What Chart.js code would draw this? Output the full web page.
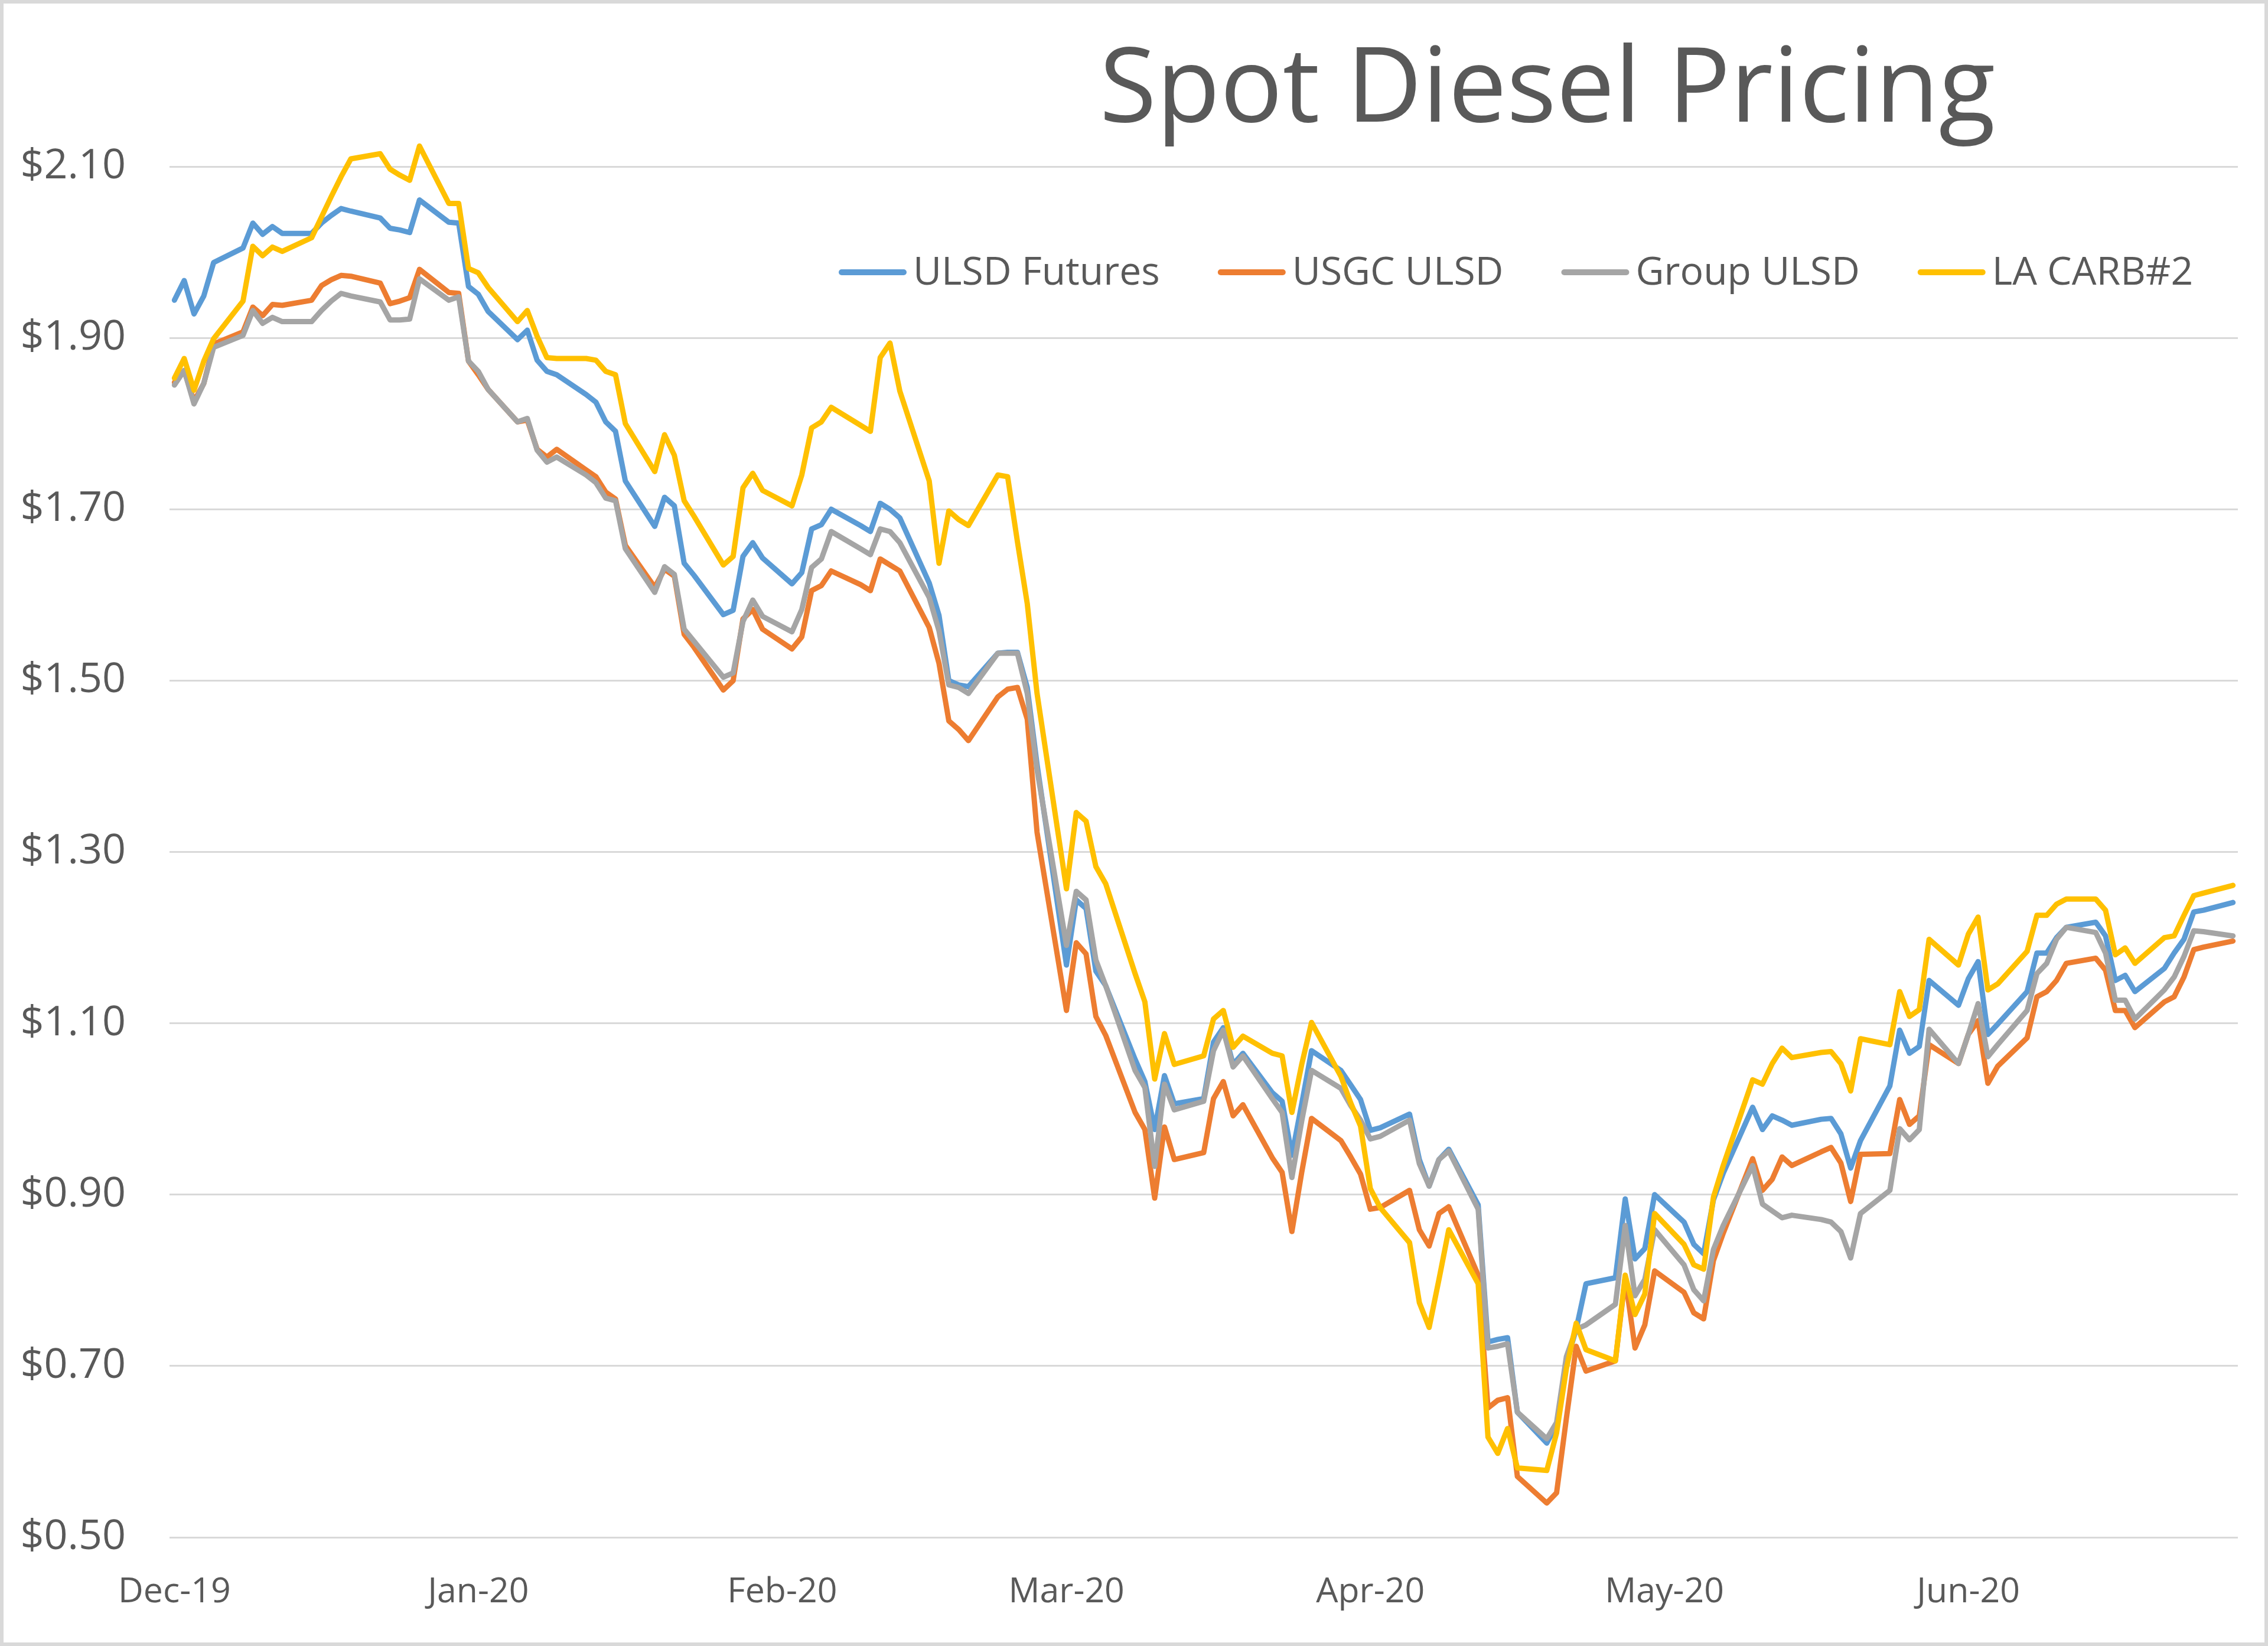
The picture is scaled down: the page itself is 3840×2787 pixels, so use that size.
<!DOCTYPE html>
<html>
<head>
<meta charset="utf-8">
<title>Spot Diesel Pricing</title>
<script src="https://cdn.jsdelivr.net/npm/chart.js@4.4.1/dist/chart.umd.min.js"></script>
<style>
  html, body { margin: 0; padding: 0; background: #ffffff; }
  canvas { display: block; }
</style>
</head>
<body>
<canvas id="chart" width="3840" height="2787"></canvas>
<script>
// ---------------- DATA ----------------
const chartTitle = "Spot Diesel Pricing";
const seriesNames = ["ULSD Futures", "USGC ULSD", "Group ULSD", "LA CARB#2"];
const seriesColors = ["#5B9BD5", "#ED7D31", "#A5A5A5", "#FFC000"];

const startDate = "2019-12-02";
const dates = [
  "2019-12-02","2019-12-03","2019-12-04","2019-12-05","2019-12-06","2019-12-09","2019-12-10","2019-12-11","2019-12-12","2019-12-13","2019-12-16","2019-12-17","2019-12-18","2019-12-19","2019-12-20","2019-12-23","2019-12-24","2019-12-25","2019-12-26","2019-12-27","2019-12-30","2019-12-31",
  "2020-01-01","2020-01-02","2020-01-03","2020-01-06","2020-01-07","2020-01-08","2020-01-09","2020-01-10","2020-01-13","2020-01-14","2020-01-15","2020-01-16","2020-01-17","2020-01-20","2020-01-21","2020-01-22","2020-01-23","2020-01-24","2020-01-27","2020-01-28","2020-01-29","2020-01-30","2020-01-31",
  "2020-02-03","2020-02-04","2020-02-05","2020-02-06","2020-02-07","2020-02-10","2020-02-11","2020-02-12","2020-02-13","2020-02-14","2020-02-17","2020-02-18","2020-02-19","2020-02-20","2020-02-21","2020-02-24","2020-02-25","2020-02-26","2020-02-27","2020-02-28",
  "2020-03-02","2020-03-03","2020-03-04","2020-03-05","2020-03-06","2020-03-09","2020-03-10","2020-03-11","2020-03-12","2020-03-13","2020-03-16","2020-03-17","2020-03-18","2020-03-19","2020-03-20","2020-03-23","2020-03-24","2020-03-25","2020-03-26","2020-03-27","2020-03-30","2020-03-31",
  "2020-04-01","2020-04-02","2020-04-03","2020-04-06","2020-04-07","2020-04-08","2020-04-09","2020-04-10","2020-04-13","2020-04-14","2020-04-15","2020-04-16","2020-04-17","2020-04-20","2020-04-21","2020-04-22","2020-04-23","2020-04-24","2020-04-27","2020-04-28","2020-04-29","2020-04-30",
  "2020-05-01","2020-05-04","2020-05-05","2020-05-06","2020-05-07","2020-05-08","2020-05-11","2020-05-12","2020-05-13","2020-05-14","2020-05-15","2020-05-18","2020-05-19","2020-05-20","2020-05-21","2020-05-22","2020-05-25","2020-05-26","2020-05-27","2020-05-28","2020-05-29",
  "2020-06-01","2020-06-02","2020-06-03","2020-06-04","2020-06-05","2020-06-08","2020-06-09","2020-06-10","2020-06-11","2020-06-12","2020-06-15","2020-06-16","2020-06-17","2020-06-18","2020-06-19","2020-06-22","2020-06-23","2020-06-24","2020-06-25","2020-06-26","2020-06-29"
];

const ulsdFutures = [
  1.944,1.967,1.928,1.949,1.988,2.005,2.034,2.021,2.030,2.022,2.022,2.034,2.043,2.051,2.048,2.040,2.028,2.026,2.023,2.061,2.035,2.034,
  1.960,1.951,1.931,1.898,1.909,1.874,1.861,1.857,1.834,1.825,1.802,1.791,1.733,1.680,1.714,1.704,1.637,1.623,1.577,1.582,1.645,1.661,1.643,
  1.613,1.626,1.677,1.682,1.700,1.681,1.674,1.707,1.700,1.690,1.614,1.576,1.500,1.495,1.493,1.532,1.533,1.533,1.492,1.402,
  1.168,1.244,1.234,1.161,1.144,1.058,1.032,0.976,1.039,1.006,1.012,1.078,1.095,1.052,1.065,1.019,1.009,0.946,1.006,1.068,1.045,1.028,
  1.011,0.975,0.978,0.994,0.941,0.910,0.941,0.953,0.888,0.728,0.731,0.733,0.646,0.610,0.631,0.704,0.743,0.796,0.803,0.895,0.825,0.837,
  0.900,0.868,0.842,0.831,0.894,0.925,1.002,0.976,0.992,0.987,0.981,0.988,0.989,0.971,0.931,0.963,1.027,1.092,1.065,1.073,1.150,
  1.121,1.152,1.172,1.087,1.099,1.137,1.182,1.182,1.200,1.212,1.218,1.202,1.150,1.156,1.137,1.164,1.182,1.198,1.230,1.232,1.241
];

const usgcUlsd = [
  1.848,1.862,1.826,1.847,1.893,1.907,1.936,1.926,1.939,1.938,1.944,1.961,1.968,1.973,1.972,1.964,1.940,1.943,1.947,1.980,1.953,1.952,
  1.873,1.857,1.840,1.802,1.804,1.770,1.761,1.770,1.746,1.738,1.720,1.712,1.658,1.609,1.630,1.622,1.554,1.539,1.489,1.500,1.572,1.583,1.560,
  1.537,1.551,1.605,1.611,1.628,1.612,1.605,1.642,1.635,1.628,1.562,1.520,1.453,1.443,1.430,1.481,1.490,1.492,1.455,1.323,
  1.115,1.194,1.181,1.108,1.086,0.996,0.976,0.896,0.979,0.941,0.949,1.012,1.032,0.992,1.005,0.943,0.926,0.857,0.926,0.989,0.963,0.944,
  0.924,0.883,0.885,0.905,0.859,0.840,0.878,0.886,0.806,0.651,0.660,0.663,0.571,0.540,0.552,0.639,0.723,0.694,0.706,0.803,0.721,0.748,
  0.811,0.786,0.762,0.755,0.823,0.855,0.942,0.905,0.918,0.944,0.934,0.950,0.955,0.937,0.892,0.947,0.948,1.011,0.982,0.992,1.075,
  1.053,1.087,1.103,1.030,1.050,1.083,1.131,1.137,1.150,1.170,1.176,1.162,1.115,1.115,1.095,1.125,1.131,1.154,1.186,1.189,1.196
];

const groupUlsd = [
  1.845,1.862,1.823,1.847,1.889,1.903,1.932,1.917,1.924,1.919,1.919,1.932,1.943,1.952,1.949,1.942,1.921,1.921,1.922,1.969,1.944,1.948,
  1.873,1.861,1.840,1.802,1.806,1.769,1.755,1.761,1.740,1.731,1.713,1.710,1.654,1.603,1.633,1.624,1.560,1.546,1.504,1.509,1.569,1.594,1.575,
  1.557,1.583,1.632,1.642,1.674,1.654,1.647,1.677,1.674,1.661,1.597,1.558,1.495,1.492,1.485,1.532,1.532,1.532,1.485,1.396,
  1.191,1.254,1.244,1.174,1.144,1.045,1.025,0.933,1.029,0.999,1.009,1.068,1.092,1.049,1.062,1.012,0.996,0.920,0.986,1.045,1.024,1.004,
  0.987,0.965,0.968,0.987,0.936,0.910,0.941,0.951,0.883,0.721,0.723,0.726,0.646,0.615,0.634,0.711,0.743,0.748,0.772,0.864,0.782,0.801,
  0.859,0.818,0.789,0.776,0.836,0.864,0.934,0.889,0.881,0.873,0.876,0.871,0.868,0.857,0.826,0.878,0.905,0.977,0.964,0.976,1.093,
  1.053,1.087,1.123,1.061,1.075,1.115,1.158,1.170,1.198,1.212,1.206,1.182,1.127,1.127,1.105,1.139,1.154,1.178,1.208,1.207,1.202
];

const laCarb2 = [
  1.853,1.876,1.839,1.873,1.899,1.943,2.007,1.996,2.006,2.001,2.017,2.041,2.065,2.088,2.109,2.115,2.097,2.090,2.084,2.124,2.057,2.057,
  1.981,1.976,1.959,1.919,1.932,1.902,1.877,1.876,1.876,1.874,1.861,1.857,1.800,1.744,1.787,1.763,1.710,1.692,1.635,1.645,1.725,1.742,1.722,
  1.704,1.740,1.795,1.802,1.819,1.798,1.791,1.877,1.894,1.838,1.733,1.637,1.698,1.688,1.681,1.740,1.738,1.662,1.590,1.485,
  1.257,1.346,1.336,1.283,1.263,1.158,1.125,1.035,1.088,1.052,1.062,1.105,1.115,1.072,1.085,1.065,1.062,0.996,1.052,1.101,1.038,1.007,
  0.980,0.907,0.885,0.844,0.774,0.745,0.801,0.859,0.796,0.617,0.598,0.627,0.581,0.578,0.622,0.697,0.750,0.719,0.706,0.806,0.760,0.784,
  0.878,0.842,0.818,0.813,0.897,0.934,1.034,1.029,1.053,1.071,1.060,1.066,1.067,1.053,1.021,1.082,1.075,1.137,1.108,1.116,1.198,
  1.168,1.204,1.224,1.139,1.146,1.184,1.226,1.226,1.239,1.245,1.245,1.232,1.180,1.188,1.170,1.200,1.202,1.226,1.249,1.252,1.261
];

const yTickValues = [0.50, 0.70, 0.90, 1.10, 1.30, 1.50, 1.70, 1.90, 2.10];
const xTickDates  = ["2019-12-02","2020-01-02","2020-02-02","2020-03-02","2020-04-02","2020-05-02","2020-06-02"];
const xTickLabels = ["Dec-19","Jan-20","Feb-20","Mar-20","Apr-20","May-20","Jun-20"];

// ---------------- BUILD ----------------
const DAY = 86400000;
const dayOf = s => Math.round((Date.parse(s + "T00:00:00Z") - Date.parse(startDate + "T00:00:00Z")) / DAY);
const xs = dates.map(dayOf);
const seriesValues = [ulsdFutures, usgcUlsd, groupUlsd, laCarb2];
const xTickDays = xTickDates.map(dayOf);

const TEXT = "#595959";
const FONT = '"Open Sans", "Noto Sans", "DejaVu Sans", sans-serif';

const datasets = seriesValues.map((vals, i) => ({
  label: seriesNames[i],
  data: vals.map((v, j) => ({ x: xs[j], y: v })),
  borderColor: seriesColors[i],
  backgroundColor: seriesColors[i],
  borderWidth: 9,
  pointRadius: 0,
  pointHoverRadius: 0,
  tension: 0,
  fill: false,
  borderJoinStyle: "round",
  borderCapStyle: "round",
  order: seriesValues.length - 1 - i   // later series drawn on top, as in the original
}));

const overlayPlugin = {
  id: "overlay",
  beforeDraw(chart) {
    const c = chart.ctx;
    c.save();
    c.fillStyle = "#ffffff";
    c.fillRect(0, 0, chart.width, chart.height);
    c.restore();
  },
  afterDraw(chart) {
    const c = chart.ctx;
    c.save();
    // Title
    c.fillStyle = TEXT;
    c.font = "176px " + FONT;
    c.textAlign = "center";
    c.textBaseline = "alphabetic";
    c.fillText(chartTitle, 2620, 206);
    // Legend (inside plot area, top right)
    c.font = "66px " + FONT;
    c.textAlign = "left";
    c.textBaseline = "middle";
    const ly = 461;
    let lx = 1420;
    seriesNames.forEach((name, i) => {
      c.strokeStyle = seriesColors[i];
      c.lineWidth = 10;
      c.lineCap = "round";
      c.beginPath();
      c.moveTo(lx + 5, ly);
      c.lineTo(lx + 110, ly);
      c.stroke();
      lx += 126;
      c.fillStyle = TEXT;
      c.fillText(name, lx, ly + 2);
      lx += c.measureText(name).width + 98;
    });
    // Chart border
    c.strokeStyle = "#d9d9d9";
    c.lineWidth = 6;
    c.strokeRect(3, 3, chart.width - 6, chart.height - 6);
    c.restore();
  }
};

function build() {
  new Chart(document.getElementById("chart"), {
    type: "line",
    data: { datasets },
    plugins: [overlayPlugin],
    options: {
      responsive: false,
      animation: false,
      devicePixelRatio: 1,
      layout: { padding: { top: 137, right: 51, bottom: 0, left: 0 } },
      plugins: {
        legend: { display: false },
        title: { display: false },
        tooltip: { enabled: false }
      },
      scales: {
        x: {
          type: "linear",
          min: -0.5,
          max: 210.5,
          grid: { display: false, drawTicks: false },
          border: { display: false },
          afterBuildTicks: ax => { ax.ticks = xTickDays.map(v => ({ value: v })); },
          afterFit: ax => { ax.height = 184; },
          ticks: {
            autoSkip: false,
            maxRotation: 0,
            minRotation: 0,
            color: TEXT,
            font: { family: FONT, size: 59 },
            padding: 58,
            callback: v => { const k = xTickDays.indexOf(v); return k >= 0 ? xTickLabels[k] : ""; }
          }
        },
        y: {
          type: "linear",
          min: 0.5,
          max: 2.2,
          grid: { color: "#d9d9d9", lineWidth: 3, drawTicks: false },
          border: { display: false },
          afterBuildTicks: ax => { ax.ticks = yTickValues.map(v => ({ value: v })); },
          afterFit: ax => { ax.width = 287; },
          ticks: {
            color: TEXT,
            font: { family: FONT, size: 70 },
            padding: 74,
            callback: v => "$" + Number(v).toFixed(2)
          }
        }
      }
    }
  });
}

const fontLoads = [
  document.fonts.load('70px "Open Sans"'),
  document.fonts.load('176px "Open Sans"')
];
Promise.race([Promise.all(fontLoads), new Promise(r => setTimeout(r, 1500))])
  .catch(() => {})
  .then(build);
</script>
</body>
</html>
